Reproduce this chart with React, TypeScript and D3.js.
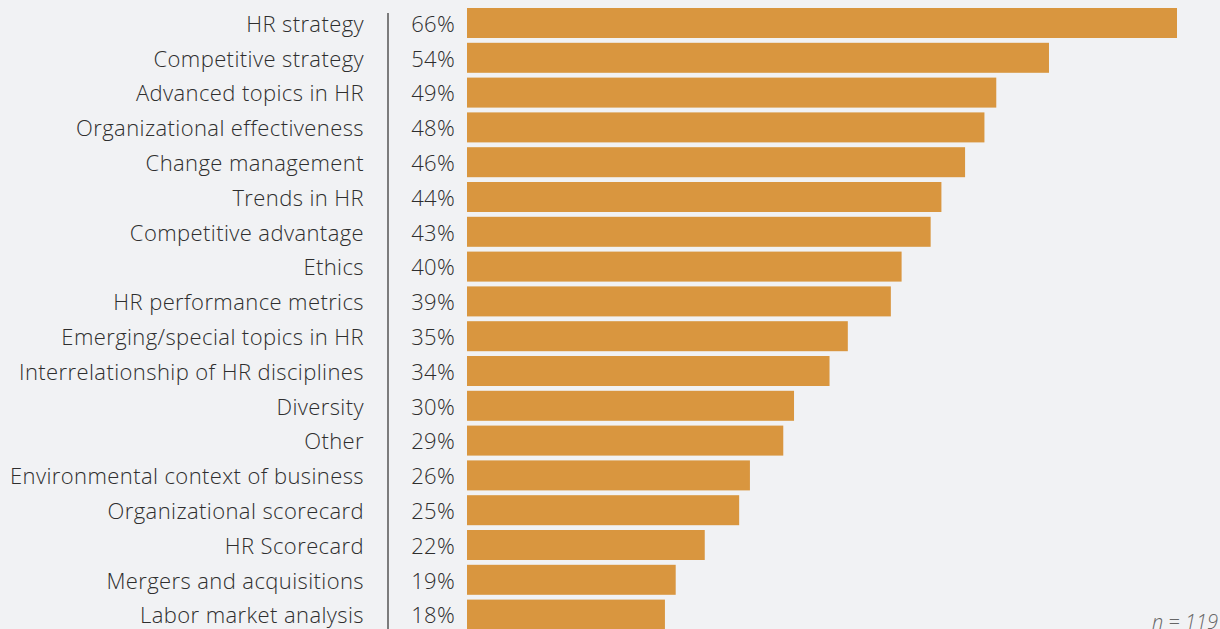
import React from "react";
import * as d3 from "d3";

const categories = [
  "HR strategy",
  "Competitive strategy",
  "Advanced topics in HR",
  "Organizational effectiveness",
  "Change management",
  "Trends in HR",
  "Competitive advantage",
  "Ethics",
  "HR performance metrics",
  "Emerging/special topics in HR",
  "Interrelationship of HR disciplines",
  "Diversity",
  "Other",
  "Environmental context of business",
  "Organizational scorecard",
  "HR Scorecard",
  "Mergers and acquisitions",
  "Labor market analysis",
];
const values = [66, 54.1, 49.2, 48.1, 46.3, 44.1, 43.1, 40.4, 39.4, 35.4, 33.7, 30.4, 29.4, 26.3, 25.3, 22.1, 19.4, 18.4];
const valueLabels = ["66%", "54%", "49%", "48%", "46%", "44%", "43%", "40%", "39%", "35%", "34%", "30%", "29%", "26%", "25%", "22%", "19%", "18%"];
const note = "n = 119";

const W = 1220;
const H = 629;
const FONT = "'Open Sans', 'Noto Sans', sans-serif";

export default function App() {
  const y = d3
    .scaleBand<string>()
    .domain(categories)
    .range([5.6, 632])
    .paddingInner(0.138)
    .paddingOuter(0.069);
  const x = d3.scaleLinear().domain([0, 66]).range([467, 1177]);

  return (
    <div style={{ position: "fixed", left: 0, top: 0, width: W, height: H, background: "#f1f2f4" }}>
      <svg width={W} height={H} style={{ display: "block" }}>
        <rect x={0} y={0} width={W} height={H} fill="#f1f2f4" />
        <line x1={388} x2={388} y1={13} y2={H} stroke="#555" strokeWidth={1.5} />
        {categories.map((c, i) => {
          const by = y(c)!;
          const cy = by + y.bandwidth() / 2;
          return (
            <g key={c}>
              <rect x={x(0)} y={by} width={x(values[i]) - x(0)} height={y.bandwidth()} fill="#d9963f" />
              <text
                x={364}
                y={cy + 8.8}
                textAnchor="end"
                fontFamily={FONT}
                fontSize={22}
                fontWeight={300}
                letterSpacing={0.4}
                fill="#2e2e2e"
              >
                {c}
              </text>
              <text
                x={455}
                y={cy + 8.8}
                textAnchor="end"
                fontFamily={FONT}
                fontSize={22}
                fontWeight={300}
                letterSpacing={0.3}
                fill="#2e2e2e"
              >
                {valueLabels[i]}
              </text>
            </g>
          );
        })}
        <text
          x={1218}
          y={629}
          textAnchor="end"
          fontFamily={FONT}
          fontSize={20}
          fontWeight={300}
          fontStyle="italic"
          fill="#666"
        >
          {note}
        </text>
      </svg>
    </div>
  );
}
